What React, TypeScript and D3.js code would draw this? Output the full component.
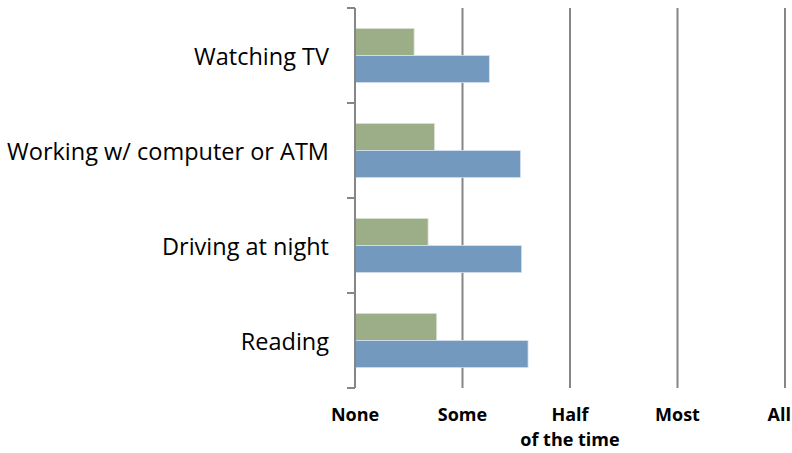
import React, { useEffect, useRef } from 'react';
import * as d3 from 'd3';

// categories top to bottom
const categories = ['Watching TV', 'Working w/ computer or ATM', 'Driving at night', 'Reading'];
// green series (upper bar in each group)
const seriesA = [0.55, 0.74, 0.68, 0.76];
// blue series (lower bar in each group)
const seriesB = [1.25, 1.54, 1.55, 1.61];
const tickLabels = [['None'], ['Some'], ['Half', 'of the time'], ['Most'], ['All']];

const W = 792;
const H = 453;

export default function App() {
  const ref = useRef<SVGSVGElement>(null);

  useEffect(() => {
    const svg = d3.select(ref.current);
    svg.selectAll('*').remove();

    const margin = { top: 8, left: 355, right: 7, bottom: 65 };
    const x = d3.scaleLinear().domain([0, 4]).range([margin.left, W - margin.right]);
    const y = d3.scaleBand().domain(categories).range([margin.top, H - margin.bottom]);
    const inner = d3.scaleBand().domain(['a', 'b']).range([0, y.bandwidth()]).paddingInner(0).paddingOuter(0.75);

    const gray = '#868686';

    // vertical gridlines
    svg.append('g')
      .selectAll('line')
      .data(d3.range(1, 5))
      .join('line')
      .attr('x1', (d) => x(d)).attr('x2', (d) => x(d))
      .attr('y1', margin.top).attr('y2', H - margin.bottom)
      .attr('stroke', gray).attr('stroke-width', 2);

    // bars
    const g = svg.append('g');
    categories.forEach((c, i) => {
      const y0 = y(c)!;
      g.append('rect')
        .attr('x', x(0)).attr('y', y0 + inner('a')!)
        .attr('width', x(seriesA[i]) - x(0)).attr('height', inner.bandwidth())
        .attr('fill', '#9bae87').attr('stroke', '#dfe6d8').attr('stroke-width', 0.8);
      g.append('rect')
        .attr('x', x(0)).attr('y', y0 + inner('b')!)
        .attr('width', x(seriesB[i]) - x(0)).attr('height', inner.bandwidth())
        .attr('fill', '#7399be').attr('stroke', '#d9e3ee').attr('stroke-width', 0.8);
    });

    // left axis
    const yAxis = svg.append('g');
    yAxis.append('line')
      .attr('x1', x(0)).attr('x2', x(0))
      .attr('y1', margin.top).attr('y2', H - margin.bottom)
      .attr('stroke', gray).attr('stroke-width', 2);
    const bounds = categories.map((c) => y(c)!).concat([H - margin.bottom]);
    yAxis.selectAll('line.tick')
      .data(bounds)
      .join('line')
      .attr('class', 'tick')
      .attr('x1', x(0) - 8).attr('x2', x(0))
      .attr('y1', (d) => d).attr('y2', (d) => d)
      .attr('stroke', gray).attr('stroke-width', 2);

    yAxis.selectAll('text')
      .data(categories)
      .join('text')
      .attr('x', 329)
      .attr('y', (d) => y(d)! + y.bandwidth() / 2 + 1)
      .attr('dy', '0.35em')
      .attr('text-anchor', 'end')
      .attr('font-family', 'Open Sans, sans-serif')
      .attr('font-size', 23.5)
      .attr('fill', '#000')
      .text((d) => d);

    // bottom labels
    const xl = svg.append('g')
      .attr('font-family', 'Open Sans, sans-serif')
      .attr('font-size', 18)
      .attr('font-weight', 'bold')
      .attr('text-anchor', 'middle');
    tickLabels.forEach((lines, i) => {
      const last = i === tickLabels.length - 1;
      const tx = last ? W - 1 : x(i);
      const t = xl.append('text').attr('x', tx).attr('y', 421)
        .attr('text-anchor', last ? 'end' : 'middle');
      lines.forEach((l, j) => {
        t.append('tspan').attr('x', tx).attr('dy', j === 0 ? 0 : 25).text(l);
      });
    });
  }, []);

  return (
    <svg ref={ref} width={W} height={H} style={{ display: 'block', position: 'absolute', left: 0, top: 0, background: '#fff' }} />
  );
}
